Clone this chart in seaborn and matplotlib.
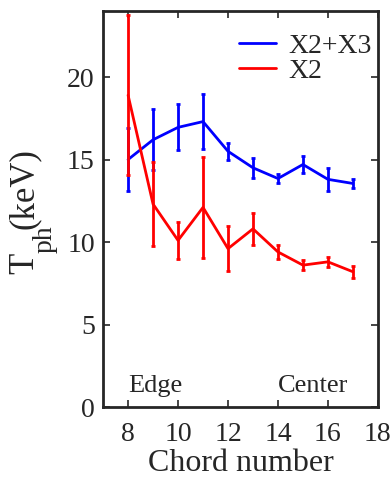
import matplotlib
matplotlib.use("Agg")
import matplotlib.pyplot as plt
import seaborn as sns
import pandas as pd

# Photon temperature per chord for the two fit models
chords = [8, 9, 10, 11, 12, 13, 14, 15, 16, 17]
t_x2x3 = [15.0, 16.2, 16.95, 17.3, 15.5, 14.5, 13.85, 14.7, 13.8, 13.55]
err_x2x3 = [1.9, 1.85, 1.4, 1.65, 0.5, 0.6, 0.3, 0.5, 0.7, 0.3]
t_x2 = [18.9, 12.3, 10.1, 12.1, 9.6, 10.8, 9.4, 8.6, 8.8, 8.2]
err_x2 = [4.85, 2.55, 1.1, 3.05, 1.35, 0.95, 0.45, 0.3, 0.3, 0.35]

x_ticks = [8, 10, 12, 14, 16, 18]
y_ticks = [0, 5, 10, 15, 20]

sns.set_style("ticks")
plt.rcParams["font.family"] = ["Liberation Serif", "DejaVu Serif"]

df = pd.concat([
    pd.DataFrame({"chord": chords, "T": t_x2x3, "err": err_x2x3, "model": "X2+X3"}),
    pd.DataFrame({"chord": chords, "T": t_x2, "err": err_x2, "model": "X2"}),
])
palette = {"X2+X3": "#0000ff", "X2": "#ff0000"}

W, H = 392, 480
fig = plt.figure(figsize=(W / 100, H / 100), dpi=100)
ax = fig.add_axes([0.263, 0.152, 0.701, 0.825])

sns.lineplot(data=df, x="chord", y="T", hue="model", palette=palette,
             linewidth=2, ax=ax, estimator=None, sort=False)
for name, sub in df.groupby("model", sort=False):
    ax.errorbar(sub["chord"], sub["T"], yerr=sub["err"], fmt="none",
                ecolor=palette[name], elinewidth=2, capsize=1.7, capthick=2)

ax.set_xlim(7, 18)
ax.set_ylim(0, 24)
ax.set_xticks(x_ticks)
ax.set_yticks(y_ticks)
ax.tick_params(direction="in", length=5, width=1.2, labelsize=20,
               top=True, right=True)
ax.tick_params(axis="x", pad=11)
ax.tick_params(axis="y", pad=6)
for sp in ax.spines.values():
    sp.set_linewidth(2)
    sp.set_visible(True)

ax.set_xlabel("Chord number", fontsize=23, labelpad=1)
ax.set_ylabel("")

# y label with a lowered subscript, written in rotated pieces
def px(x, y):
    return x / W, 1 - y / H

lab_kw = dict(rotation=90, rotation_mode="anchor", ha="left", va="baseline")
fig.text(*px(33, 274), "T", fontsize=25, **lab_kw)
fig.text(*px(52, 253), "ph", fontsize=20, **lab_kw)
fig.text(*px(33, 229), "(keV)", fontsize=25, **lab_kw)

ax.text(8.0, 1.3, "Edge", fontsize=19, va="center", ha="left")
ax.text(14.0, 1.3, "Center", fontsize=19, va="center", ha="left")

handles, labels = ax.get_legend_handles_labels()
ax.legend(handles, labels, loc="upper right", frameon=False, fontsize=20,
          handlelength=1.33, handletextpad=0.43, labelspacing=0.0,
          borderaxespad=0.0, bbox_to_anchor=(1.018, 0.972))

fig.savefig("out.png", dpi=100)
